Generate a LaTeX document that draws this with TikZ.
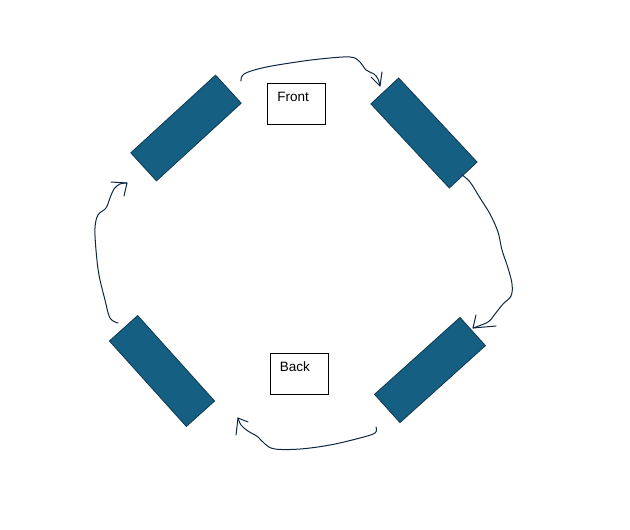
\documentclass[tikz,border=0pt]{standalone}
\usepackage{fontspec}
\setmainfont{Liberation Sans}
\usetikzlibrary{arrows.meta,calc}
\definecolor{panelfill}{RGB}{21,96,130}
\definecolor{paneledge}{RGB}{14,58,80}
\definecolor{inkline}{RGB}{14,40,65}
\tikzset{
  panel/.style={draw=paneledge, fill=panelfill, line width=0.8pt, minimum width=115pt, minimum height=38pt, inner sep=0pt},
  labelbox/.style={draw=black, line width=0.6pt, minimum width=58pt, minimum height=41pt, inner sep=0pt},
  labeltext/.style={anchor=base west, inner sep=0pt, font=\fontsize{13.5}{16}\selectfont},
  handarrow/.style={draw=inkline, line width=1pt, line cap=round, line join=round},
  handhead/.style={draw=inkline, line width=1pt, line cap=round, line join=round}
}
\begin{document}
\begin{tikzpicture}[x=1pt,y=-1pt]
\useasboundingbox (0,0) rectangle (630,530);
% panels
\node[panel, rotate=42.5] (tl) at (186,128) {};
\node[panel, rotate=-47] (tr) at (424,133) {};
\node[panel, rotate=42] (br) at (430,370) {};
\node[panel, rotate=-48] (bl) at (162,371) {};
% label boxes
\node[labelbox] (front) at (296,103.5) {};
\node[labeltext] (fronttxt) at ($(front.north west)+(10.5,19)$) {Front};
\node[labelbox] (back) at (299,373.5) {};
\node[labeltext] (backtxt) at ($(back.north west)+(10,19)$) {Back};
% arrow end points
\coordinate (a1s) at (241,81);
\coordinate (a1e) at (380,86);
\coordinate (a2s) at (462,175);
\coordinate (a2e) at (473,328);
\coordinate (a3s) at (376,427);
\coordinate (a3e) at (238,418);
\coordinate (a4s) at (118,323);
\coordinate (a4e) at (127,183);
% top arrow
\draw[handarrow] plot[smooth, tension=0.6] coordinates {(a1s) (244,74) (262,68) (290,63) (320,59) (350,57) (360,62) (366,70) (374,74) (378,79) (a1e)};
\draw[handhead] (371,77) -- (a1e) -- (382,72);
% right arrow
\draw[handarrow] plot[smooth, tension=0.6] coordinates {(a2s) (470,182) (480,198) (490,214) (498,232) (502,250) (508,268) (512,284) (511,296) (503,304) (495,314) (488,322) (a2e)};
\draw[handhead] (476,315) -- (a2e) -- (496,326);
% bottom arrow
\draw[handarrow] plot[smooth, tension=0.6] coordinates {(a3s) (375,433) (360,438) (330,445) (300,449) (275,449) (265,444) (258,437) (248,431) (241,425) (a3e)};
\draw[handhead] (236,435) -- (a3e) -- (248,422);
% left arrow
\draw[handarrow] plot[smooth, tension=0.6] coordinates {(a4s) (110,318) (105,300) (99,275) (96,250) (95,228) (98,215) (106,208) (110,198) (114,189) (120,184) (a4e)};
\draw[handhead] (111,182) -- (a4e) -- (124,196);
\end{tikzpicture}
\end{document}
